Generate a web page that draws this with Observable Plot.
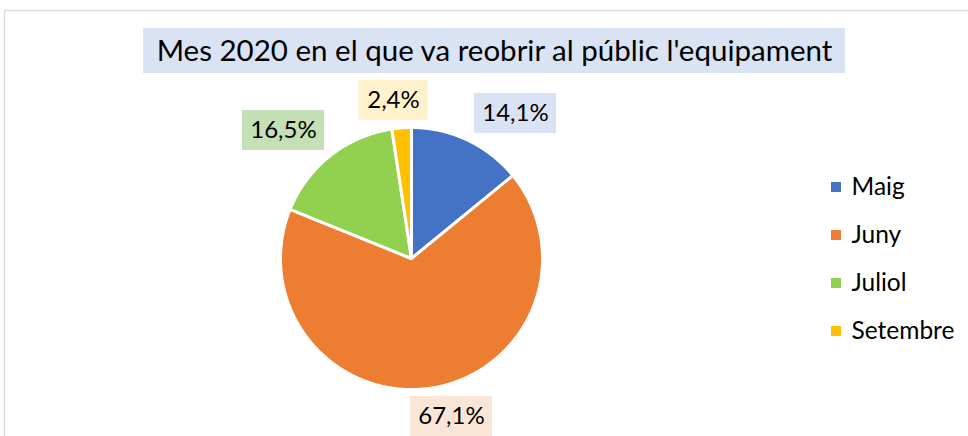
<!DOCTYPE html>
<html>
<head>
<meta charset="utf-8">
<script src="https://cdn.jsdelivr.net/npm/d3@7"></script>
<script src="https://cdn.jsdelivr.net/npm/@observablehq/plot@0.6"></script>
<style>
  html, body { margin: 0; padding: 0; background: #fff; }
  #chart svg { display: block; }
</style>
</head>
<body>
<div id="chart"></div>
<script>
// ---- data ----
const months = ["Maig", "Juny", "Juliol", "Setembre"];
const values = [14.1, 67.1, 16.5, 2.4];
const labels = ["14,1%", "67,1%", "16,5%", "2,4%"];
const colors = ["#4472C4", "#ED7D31", "#92D050", "#FFC000"];
const labelFills = ["#DAE3F3", "#FBE5D6", "#C5E0B4", "#FFF2CC"];
const title = "Mes 2020 en el que va reobrir al públic l'equipament";

// ---- layout (pixels) ----
const W = 968, H = 436;
const cx = 411, cy = 258, R = 131;
// label box centres (px) for each slice, Excel-style placement
const labelCenters = [[515, 113], [451, 416], [283, 130], [393, 100]];
const boxW = [82, 82, 82, 69], boxH = 40;

// pie polygons computed from the values
const total = d3.sum(values);
const pieRows = [];
let acc = 0;
months.forEach((m, i) => {
  const a0 = acc / total * 2 * Math.PI;
  acc += values[i];
  const a1 = acc / total * 2 * Math.PI;
  pieRows.push({month: m, px: cx, py: cy});
  const n = Math.max(2, Math.ceil((a1 - a0) / (Math.PI / 360)));
  for (let k = 0; k <= n; k++) {
    const a = a0 + (a1 - a0) * k / n;
    pieRows.push({month: m, px: cx + R * Math.sin(a), py: cy - R * Math.cos(a)});
  }
});

const labelRows = months.map((m, i) => ({
  month: m, text: labels[i], fill: labelFills[i],
  x: labelCenters[i][0], y: labelCenters[i][1], w: boxW[i]
}));

const legendRows = months.map((m, i) => ({month: m, y: 187 + i * 48}));

const font = "Lato, Carlito, 'Open Sans', sans-serif";

const chart = Plot.plot({
  width: W, height: H,
  margin: 0,
  x: {domain: [0, W], range: [0, W], axis: null},
  y: {domain: [0, H], range: [0, H], axis: null},
  color: {type: "ordinal", domain: months, range: colors},
  style: {fontFamily: font, background: "#fff"},
  marks: [
    // chart-area border
    Plot.ruleY([10], {x1: 4, x2: W, stroke: "#d9d9d9", strokeWidth: 1.3}),
    Plot.ruleX([4], {y1: 10, y2: H, stroke: "#d9d9d9", strokeWidth: 1.3}),
    // title
    Plot.rect([title], {x1: 143, x2: 845, y1: 28, y2: 73, fill: "#DAE3F3"}),
    Plot.text([title], {x: 494, y: 51, text: d => d, fontSize: 29.5, fill: "#000"}),
    // pie
    Plot.line(pieRows, {x: "px", y: "py", z: "month", fill: "month", stroke: "#fff",
      strokeWidth: 3, strokeLinejoin: "miter", curve: "linear-closed"}),
    // data labels
    Plot.rect(labelRows, {x1: d => d.x - d.w / 2, x2: d => d.x + d.w / 2,
      y1: d => d.y - boxH / 2, y2: d => d.y + boxH / 2, fill: d => d.fill}),
    Plot.text(labelRows, {x: "x", y: "y", text: "text", fontSize: 24, fill: "#000"}),
    // legend
    Plot.rect(legendRows, {x1: 831, x2: 841, y1: d => d.y - 5, y2: d => d.y + 5, fill: "month"}),
    Plot.text(legendRows, {x: 851, y: "y", text: "month", textAnchor: "start", fontSize: 24.5, fill: "#000"})
  ]
});
document.getElementById("chart").appendChild(chart);
</script>
</body>
</html>
